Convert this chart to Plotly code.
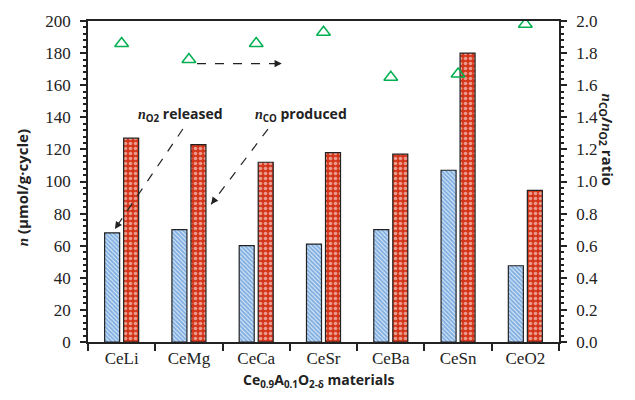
import plotly.graph_objects as go

categories = ["CeLi", "CeMg", "CeCa", "CeSr", "CeBa", "CeSn", "CeO2"]
n_o2 = [68, 70, 60, 61, 70, 107, 47.5]
n_co = [127, 123, 112, 118, 117, 180, 94.5]
ratio = [1.86, 1.76, 1.86, 1.93, 1.65, 1.67, 1.98]

sans = "Open Sans"
dark = "#222222"

fig = go.Figure()
fig.add_trace(go.Bar(
    x=categories, y=n_o2, name="nO2 released",
    marker=dict(color="#ffffff", line=dict(color=dark, width=1.2),
                pattern=dict(shape="\\", fgcolor="#1f6fc8", bgcolor="#e6f1fc",
                             size=3, solidity=0.7)),
))
fig.add_trace(go.Bar(
    x=categories, y=n_co, name="nCO produced",
    marker=dict(color="#d83a1a", line=dict(color=dark, width=1.2),
                pattern=dict(shape=".", fgcolor="#ffffff", bgcolor="#d4361a",
                             size=5, solidity=0.4)),
))
fig.add_trace(go.Scatter(
    x=categories, y=ratio, yaxis="y2", mode="markers", name="ratio",
    marker=dict(symbol="triangle-up-open", size=12, color="#00b050",
                line=dict(width=1.5, color="#00b050")),
))

tf = dict(family="Liberation Serif, serif", size=17, color=dark)

fig.update_layout(
    width=635, height=400,
    font=dict(family="Liberation Serif, serif", color=dark),
    margin=dict(l=88, r=76, t=18, b=58),
    plot_bgcolor="white", paper_bgcolor="white",
    showlegend=False,
    barmode="group", bargap=0.435, bargroupgap=0.21,
    xaxis=dict(showline=True, linecolor=dark, linewidth=1.5, showgrid=False,
               zeroline=False, tickfont=tf, tickson="boundaries",
               ticks="outside", ticklen=7, tickcolor=dark, tickwidth=1.5,
               mirror=True),
    yaxis=dict(showline=True, linecolor=dark, linewidth=1.5, showgrid=False,
               zeroline=False, tickfont=tf, range=[0, 200], dtick=20,
               ticks="outside", ticklen=6, tickcolor=dark, tickwidth=1.5,
               ticklabelstandoff=6,
               minor=dict(ticks="outside", ticklen=3, dtick=4, tickcolor=dark)),
    yaxis2=dict(showline=True, linecolor=dark, linewidth=1.5, showgrid=False,
                zeroline=False, tickfont=tf, range=[0, 2], dtick=0.2,
                tickformat=".1f", overlaying="y", side="right",
                ticks="outside", ticklen=6, tickcolor=dark, tickwidth=1.5,
                ticklabelstandoff=6,
                minor=dict(ticks="outside", ticklen=3, dtick=0.04,
                           tickcolor=dark)),
)

nI = "<i><span style='font-family:Liberation Serif'>n</span></i>"

annotations = [
    dict(text="<b>" + nI + " (μmol/g·cycle)</b>", xref="paper", yref="paper",
         x=-0.165, y=0.48, showarrow=False, textangle=-90,
         font=dict(family=sans, size=15, color=dark)),
    dict(text="<b>" + nI + "<sub>CO</sub>/" + nI + "<sub>O2</sub> ratio</b>",
         xref="paper", yref="paper", x=1.13, y=0.63, showarrow=False,
         textangle=90, font=dict(family=sans, size=15, color=dark)),
    dict(text="<b>Ce<sub>0.9</sub>A<sub>0.1</sub>O<sub>2-δ</sub> materials</b>",
         xref="paper", yref="paper", x=0.49, y=-0.12, showarrow=False,
         yanchor="middle", font=dict(family=sans, size=14, color=dark)),
    dict(text="<b>" + nI + "<sub>O2</sub> released</b>", xref="x", yref="y",
         x=0.87, y=142, showarrow=False,
         font=dict(family=sans, size=14, color=dark)),
    dict(text="<b>" + nI + "<sub>CO</sub> produced</b>", xref="x", yref="y",
         x=2.67, y=142, showarrow=False,
         font=dict(family=sans, size=14, color=dark)),
]

arrows = [
    (0.91, 132.7, -0.10, 70.4),
    (2.175, 132.7, 1.33, 85.8),
    (1.12, 173.5, 2.38, 173.5),
]
shapes = []
for x0, y0, x1, y1 in arrows:
    shapes.append(dict(type="line", xref="x", yref="y", x0=x0, y0=y0,
                       x1=x1, y1=y1, line=dict(color=dark, width=1.2,
                                               dash="dash")))
    dx = x1 - x0
    dy = y1 - y0
    annotations.append(dict(xref="x", yref="y", axref="x", ayref="y",
                            x=x1, y=y1, ax=x1 - dx * 0.08, ay=y1 - dy * 0.08,
                            showarrow=True, arrowhead=2, arrowsize=1.2,
                            arrowwidth=1.2, arrowcolor=dark, text=""))

fig.update_layout(annotations=annotations, shapes=shapes)
fig.write_html("out.html")
